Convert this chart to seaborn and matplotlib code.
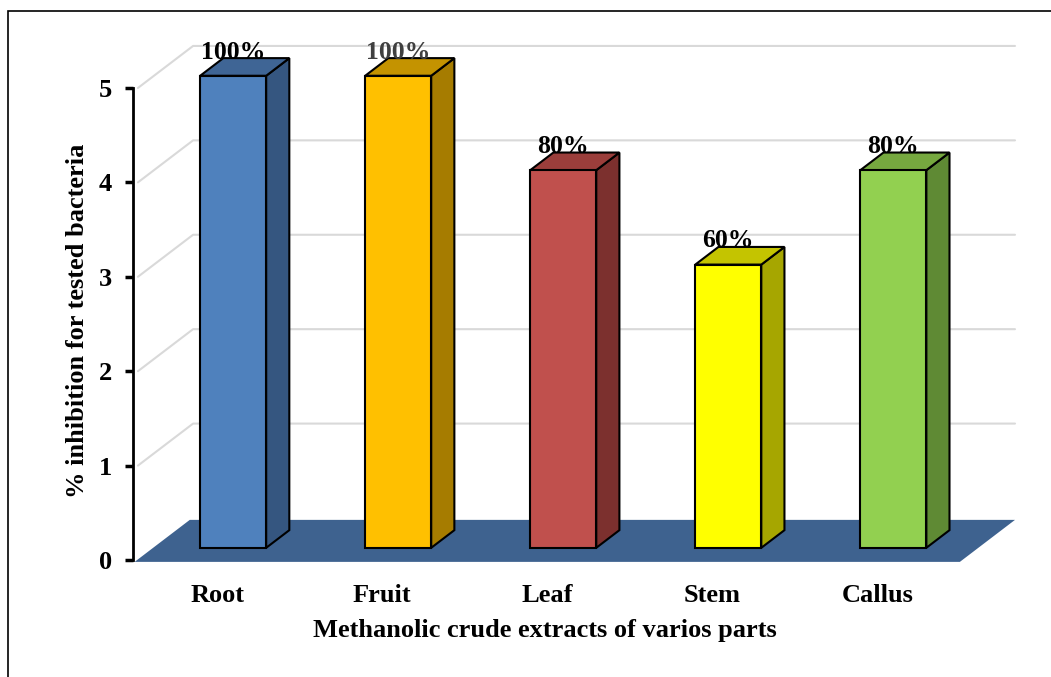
import numpy as np
import pandas as pd
import matplotlib.pyplot as plt
from matplotlib.patches import Polygon, Rectangle
import seaborn as sns

# data
parts = ['Root', 'Fruit', 'Leaf', 'Stem', 'Callus']
inhibition = [5, 5, 4, 3, 4]
pct_labels = ['100%', '100%', '80%', '60%', '80%']
front_cols = ['#4F81BD', '#FFC000', '#C0504D', '#FFFF00', '#92D050']
side_cols = ['#355680', '#A67C00', '#7C302E', '#A6A600', '#5F8A34']
top_cols = ['#3F6595', '#C49300', '#9B3E3B', '#C4C400', '#76A83F']
label_cols = ['black', '#404040', 'black', 'black', 'black']

df = pd.DataFrame({'part': parts, 'value': inhibition})

sns.set_theme(style='white')
plt.rcParams['font.family'] = ['Liberation Serif', 'DejaVu Serif']
plt.rcParams['font.weight'] = 'bold'
plt.rcParams['text.color'] = 'black'
plt.rcParams['axes.labelcolor'] = 'black'
plt.rcParams['xtick.color'] = 'black'
plt.rcParams['ytick.color'] = 'black'

fig = plt.figure(figsize=(10.51, 6.77), dpi=100)
ax = fig.add_axes([133 / 1051, 112 / 677, 882 / 1051, 525 / 677])

# fake 3d depth (data units)
DX, DY = 0.334, 0.445
f0, f1 = 0.29, 0.71
n = len(parts)
shift = f0 * DX
lift = f0 * DY

sns.barplot(data=df, x='part', y='value', hue='part', palette=front_cols,
            saturation=1, legend=False, width=0.40, edgecolor='black',
            linewidth=1.5, bottom=lift, ax=ax, zorder=5)

x_axis = -0.51 - shift
x_right = n - 0.5 - shift + DX
ax.set_xlim(x_axis, x_right)
ax.set_ylim(-0.053, 5.508)

# back wall gridlines
for t in range(1, 6):
    ax.plot([x_axis + 0.03, x_axis + 0.03 + DX, x_right], [t, t + DY, t + DY],
            color='#D9D9D9', lw=1.5, zorder=1, clip_on=False)

# floor
fl, fr = -0.5 - shift, n - 0.5 - shift
floor = Polygon([(fl, -0.02), (fr, -0.02), (fr + DX, DY - 0.02), (fl + DX, DY - 0.02)],
                closed=True, facecolor='#3E628F', edgecolor='none', zorder=2)
ax.add_patch(floor)

# side and top faces of each bar
d = (f1 - f0)
for i, p in enumerate(ax.patches[:n]):
    x0, y0 = p.get_x(), p.get_y()
    x1, y1 = x0 + p.get_width(), y0 + p.get_height()
    ddx, ddy = d * DX, d * DY
    side = Polygon([(x1, y0), (x1, y1), (x1 + ddx, y1 + ddy), (x1 + ddx, y0 + ddy)],
                   closed=True, facecolor=side_cols[i], edgecolor='black', lw=1.5, zorder=4)
    top = Polygon([(x0, y1), (x1, y1), (x1 + ddx, y1 + ddy), (x0 + ddx, y1 + ddy)],
                  closed=True, facecolor=top_cols[i], edgecolor='black', lw=1.5, zorder=4)
    ax.add_patch(side)
    ax.add_patch(top)
    ax.text(x0 + p.get_width() / 2, y1 + ddy * 0.97, pct_labels[i],
            ha='center', va='baseline', fontsize=18.5, fontweight='bold',
            color=label_cols[i], zorder=6)

ax.set_xticks(np.arange(n) - shift, parts)
ax.set_yticks(range(0, 6))
ax.tick_params(axis='x', length=0, pad=14, labelsize=19)
ax.tick_params(axis='y', length=6, width=2.5, color='black', direction='out',
               pad=9, labelsize=19, left=True)
for lab in ax.get_xticklabels() + ax.get_yticklabels():
    lab.set_fontweight('bold')

for s in ['top', 'right', 'bottom']:
    ax.spines[s].set_visible(False)
ax.spines['left'].set_bounds(0, 5)
ax.spines['left'].set_linewidth(2)
ax.spines['left'].set_color('black')
ax.patch.set_alpha(0)

ax.set_xlabel('Methanolic crude extracts of varios parts', fontsize=19,
              fontweight='bold')
ax.set_ylabel('% inhibition for tested bacteria', fontsize=19,
              fontweight='bold')
ax.xaxis.set_label_coords(0.467, -0.103)
ax.yaxis.set_label_coords(-0.05, 0.465)

# chart border
fig.patches.append(Rectangle((8 / 1051, -0.1), 1.2, 1.1 - 11 / 677, fill=False,
                             edgecolor='black', lw=1.2, transform=fig.transFigure))

fig.savefig('out.png', dpi=100)
